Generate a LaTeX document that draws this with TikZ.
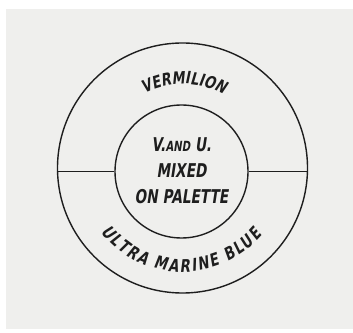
\documentclass[tikz,border=0pt]{standalone}
\usepackage{fontspec}
\usetikzlibrary{calc,decorations.text}
\newfontfamily\ringfont[FakeStretch=0.76,FakeSlant=0.15]{DejaVu Sans Bold}
\newfontfamily\hubfont[FakeStretch=0.72,FakeSlant=0.15]{DejaVu Sans Bold}
\definecolor{paper}{HTML}{EFEFED}
\definecolor{ink}{HTML}{1E1E1E}
\tikzset{
  ring/.style={circle,draw=ink,line width=1.4pt,inner sep=0pt},
  ringtext/.style={decoration={text along path,text align=fit to path,
      text={#1}},decorate}
}

\begin{document}
\begin{tikzpicture}[x=1pt,y=1pt]
    % paper
    \fill[white] (0,0) rectangle (353,332);
    \fill[paper] (6,3) rectangle (353,323);
    \useasboundingbox (0,0) rectangle (353,332);
    % circles
    \node[ring,minimum size=250pt] (rim) at (182.5,164) {};
    \node[ring,minimum size=133pt] (core) at (181.5,160.5) {};
    % dividing line
    \draw[ink,line width=1.4pt] (rim.west |- core.west) -- (core.west);
    \draw[ink,line width=1.4pt] (core.east) -- (rim.east |- core.east);
    % colour names along the ring
    \path[ringtext={|\ringfont\fontsize{17}{17}\selectfont\color{ink}|VERMILION}]
      ($(rim.center)+(117:84)$) arc[start angle=117,end angle=61,radius=84];
    \path[ringtext={|\ringfont\fontsize{17.5}{17.5}\selectfont\color{ink}|ULTRA MARINE BLUE}]
      ($(rim.center)+(-142:104)$) arc[start angle=-142,end angle=-40,radius=104];
    % mixture in the middle
    \node[align=center,text=ink,font=\hubfont\fontsize{19}{26}\selectfont] (mix)
      at (181.5,161) {V.{\fontsize{14}{26}\selectfont AND} U.\\MIXED\\ON PALETTE};
\end{tikzpicture}
\end{document}
